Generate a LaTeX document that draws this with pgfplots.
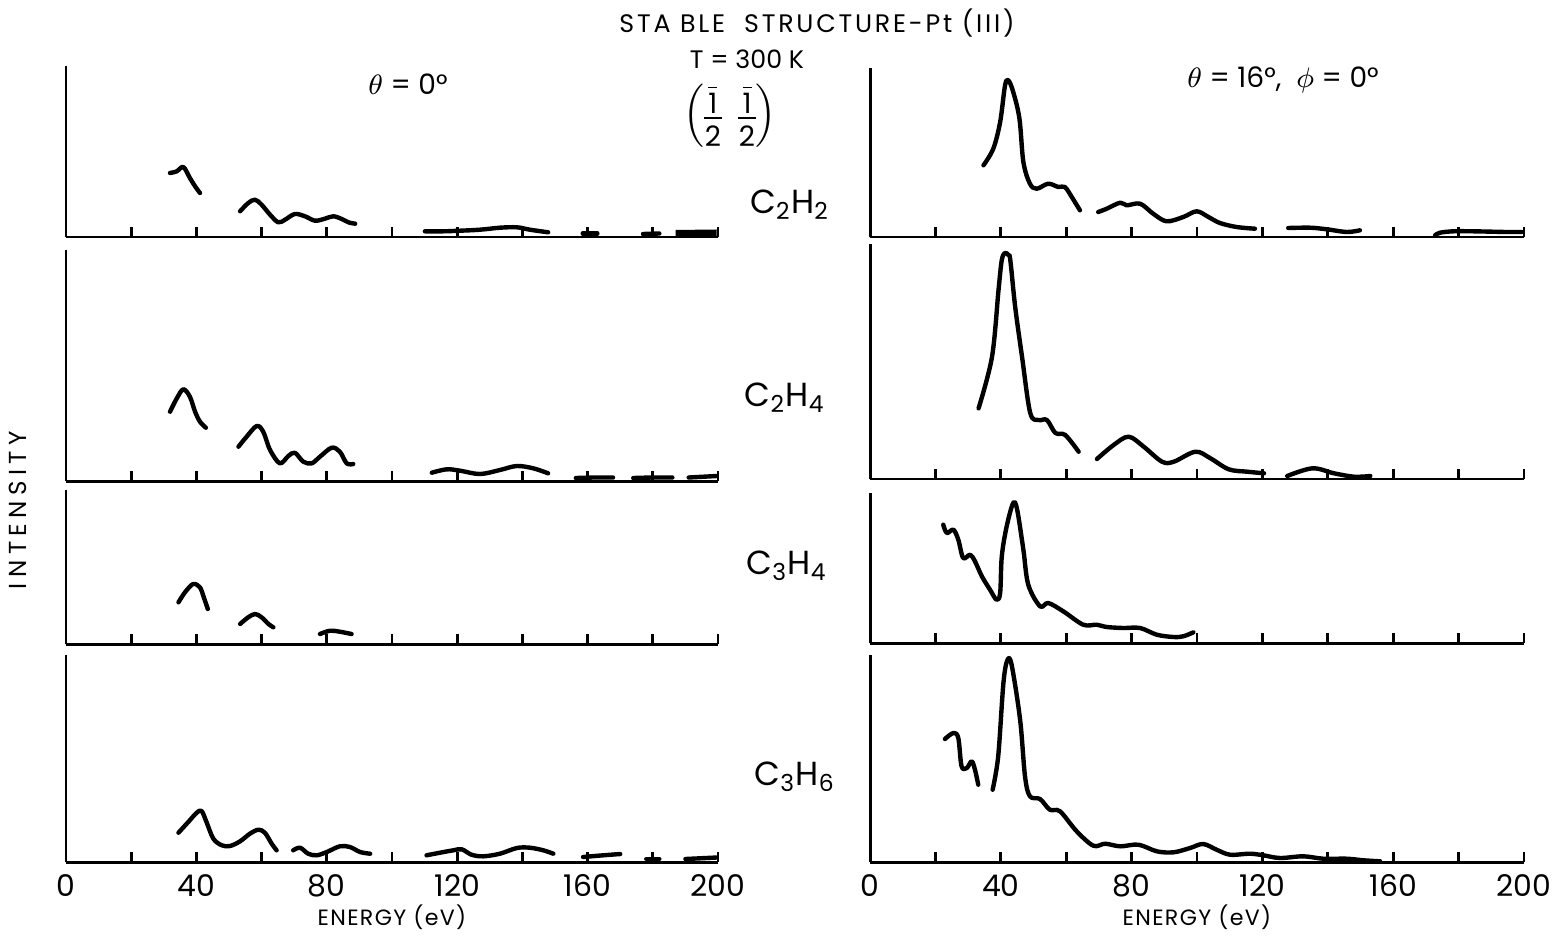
\documentclass[border=0pt]{standalone}
\usepackage{fontspec}
\setmainfont{Poppins}
\usepackage{pgfplots}
\pgfplotsset{compat=1.18}
\newcommand\negfrac{\vcenter{\offinterlineskip\halign{\hfil##\hfil\cr $\overline{\mbox{1}}$\cr\noalign{\kern1.2pt}\vrule width 0.62em height 0.6pt depth 0pt\cr\noalign{\kern1.8pt}2\cr}}}
\pgfplotsset{
  panel/.style={
    scale only axis, axis lines=left, axis line style={-, line width=0.85pt, black},
    xmin=0, xmax=200, ymin=0,
    xtick={0,40,...,200}, minor xtick={20,60,...,180}, ytick=\empty,
    tick align=inside, major tick length=0.1cm, minor tick length=0.1cm,
    every tick/.style={line width=0.75pt, black},
    xticklabels={}, clip=false, anchor=south west,
  },
  bottom/.style={
    xticklabels={0,40,80,120,160,200},
    /pgf/number format/assume math mode=true,
    ticklabel style={font=\fontsize{8.5}{9}\selectfont},
    xlabel={ENERGY (eV)},
    xlabel style={font=\fontsize{6.3}{7}\selectfont\addfontfeature{LetterSpace=6}, yshift=4.5pt},
  },
  curve/.style={black, line width=1.25pt, smooth, tension=0.55, line cap=round, line join=round, mark=none},
  thickbit/.style={black, line width=2pt, line cap=butt, mark=none},
}
\begin{document}
\begin{tikzpicture}
\path[use as bounding box] (0cm,0cm) rectangle (15.56cm,-9.35cm);
% ---------------- LEFT COLUMN ----------------
\begin{axis}[panel, at={(0.66cm,-2.37cm)}, width=6.52cm, height=1.71cm, ymax=171]
\addplot[curve] coordinates {(31.9,64)(34.0,65.7)(36.0,70)(38.0,59)(39.6,50.7)(41.1,44)};
\addplot[curve] coordinates {(53.4,25.7)(55.9,34)(58.0,37.3)(60.0,32.3)(62.6,22.3)(65.1,14.7)(67.2,17.3)(70.2,23)(73.3,20.7)(76.4,16.3)(79.4,18.3)(82.0,20.7)(84.6,18)(86.6,14.7)(88.7,13.3)};
\addplot[curve] coordinates {(110.1,5.7)(115.7,5.7)(120.9,6.3)(127.0,7.3)(133.1,9.3)(138.3,9.7)(142.3,7.3)(147.9,4.7)};
\addplot[curve] coordinates {(158.5,3.5)(163,3.5)};
\addplot[curve] coordinates {(177,3)(182,3.5)};
\addplot[thickbit] coordinates {(187,3.5)(199.6,4)};
\end{axis}
\begin{axis}[panel, at={(0.66cm,-4.81cm)}, width=6.52cm, height=2.31cm, ymax=231]
\addplot[curve] coordinates {(31.9,69.3)(34.0,82.7)(36.0,91.7)(38.0,84.3)(39.6,69.3)(41.1,59.3)(42.9,53.3)};
\addplot[curve] coordinates {(52.9,34.3)(55.4,44.3)(58.5,55)(60.5,49.3)(62.6,31)(65.6,17.7)(68.2,25)(70.2,28.3)(72.8,19.3)(75.4,17.7)(77.9,24.3)(81.5,33.3)(84.0,29.3)(86.1,17.7)(88.1,17)};
\addplot[curve] coordinates {(112.2,8.3)(116.8,11.7)(120.9,10.3)(127.0,7)(133.1,11)(138.3,15)(143.3,12.7)(147.9,7.7)};
\addplot[curve] coordinates {(156.4,3)(162,3.5)(167.8,3.5)};
\addplot[curve] coordinates {(174,3)(180,3.5)(186,3.5)};
\addplot[curve] coordinates {(191,3.5)(199.6,5)};
\end{axis}
\begin{axis}[panel, at={(0.66cm,-6.44cm)}, width=6.52cm, height=1.54cm, ymax=154]
\addplot[curve] coordinates {(34.5,41.7)(36.5,51.7)(39.0,60)(41.1,56.7)(42.1,48.3)(43.5,35)};
\addplot[curve] coordinates {(53.4,20)(55.9,26.7)(58.0,30)(60.0,26.7)(62.1,20)(63.6,16.7)};
\addplot[curve] coordinates {(77.9,10)(81.0,13.3)(84.0,12.3)(87.6,10)};
\end{axis}
\begin{axis}[panel, bottom, at={(0.66cm,-8.62cm)}, width=6.52cm, height=2.07cm, ymax=207]
\addplot[curve] coordinates {(34.5,29.3)(37.5,40)(40.1,49.3)(41.6,51)(43.1,40)(45.2,23.3)(47.8,16.7)(50.3,16)(53.4,20.7)(56.4,28.3)(59.0,32.3)(61.0,29.3)(63.1,18.3)(64.6,11.7)};
\addplot[curve] coordinates {(69.7,11.7)(71.8,14.3)(74.3,8.3)(76.9,6.7)(80.0,10)(84.0,15.7)(87.1,15)(90.2,10)(93.3,8.3)};
\addplot[curve] coordinates {(110.6,6.7)(114.7,9.3)(118.8,11.7)(121.4,12.7)(124.4,7.3)(128.0,5.7)(133.1,8.3)(138.3,14)(142.3,14.3)(146.4,11.7)(149.5,8.3)};
\addplot[curve] coordinates {(158.6,5)(164,6.5)(170,8)};
\addplot[curve] coordinates {(178,3)(182,3)};
\addplot[curve] coordinates {(190,3)(199.6,4.5)};
\end{axis}
% ---------------- RIGHT COLUMN ----------------
\begin{axis}[panel, at={(8.70cm,-2.37cm)}, width=6.54cm, height=1.69cm, ymax=169]
\addplot[curve] coordinates {(34.7,71.7)(37.7,88.3)(39.8,115)(41.3,151.7)(42.3,156.7)(43.8,145)(45.7,118.3)(46.9,75)(48.9,53.3)(51.0,48.3)(54.5,53.3)(57.6,50)(59.6,50)(61.7,40)(64.2,26.7)};
\addplot[curve] coordinates {(69.8,25)(72.4,28.3)(76.5,34.3)(78.5,31.7)(82.6,33.3)(86.6,23.3)(90.7,15.7)(95.8,20)(99.9,25.7)(103.5,20)(107.0,14)(112.1,10)(117.7,8.3)};
\addplot[curve] coordinates {(127.9,9)(134.6,9.3)(139.7,7.7)(145.8,5)(149.8,6.7)};
\addplot[curve] coordinates {(172.8,1.7)(174.3,4.3)(178.4,5.7)(184.5,5.7)(194.7,5)(199.3,5)};
\end{axis}
\begin{axis}[panel, at={(8.70cm,-4.79cm)}, width=6.54cm, height=2.35cm, ymax=235]
\addplot[curve] coordinates {(33.2,70.7)(37.3,122)(39.3,189)(40.3,219)(41.3,226)(42.3,224)(42.9,219)(44.4,172)(46.5,122)(49,66)(51.6,59)(54.1,59)(56.7,46)(59.7,44)(63.8,27.3)};
\addplot[curve] coordinates {(69.4,20)(74.5,34)(79.1,42.3)(83.7,32.3)(89.3,17.3)(92.9,17.3)(99.5,27.3)(104.1,20.7)(109.7,9.7)(115.4,7.3)(120.5,5.7)};
\addplot[curve] coordinates {(127.6,3)(135.3,10.7)(141.9,5.7)(148,2.3)(153,3)};
\end{axis}
\begin{axis}[panel, at={(8.70cm,-6.43cm)}, width=6.54cm, height=1.50cm, ymax=150]
\addplot[curve] coordinates {(22.4,118.3)(23.5,110)(25.5,113.3)(27.0,103.3)(28.5,85)(30.6,88.3)(32.1,81.7)(34.2,66.7)(36.7,53.3)(38.7,43.3)(39.8,50)(40.3,86.7)(41.8,116.7)(43.8,140)(45.0,133.3)(46.9,93.3)(48.4,58.3)(52.0,36.7)(54.5,40)(59.1,31.7)(65.2,18.3)(69.3,18.3)(72.4,16)(77.5,15)(82.6,15)(87.7,8.3)(92.8,6)(95.8,6.7)(98.9,10.7)};
\end{axis}
\begin{axis}[panel, bottom, at={(8.70cm,-8.62cm)}, width=6.54cm, height=2.07cm, ymax=207]
\addplot[curve] coordinates {(22.9,123)(25.5,129)(27.0,124)(28.0,95.7)(29.6,94)(31.1,100.7)(32.1,92.3)(33.1,77.3)};
\addplot[curve] coordinates {(37.5,72.3)(39.2,105.7)(40.8,179)(42.0,201.7)(43.3,197.3)(45.9,142.3)(47.4,85.7)(48.9,65.7)(52.0,63)(55.0,52.3)(58.1,50.7)(63.2,30.7)(68.3,16.3)(71.9,18.3)(76.5,15.7)(82.1,17.3)(87.7,10.7)(92.8,9.7)(97.9,14)(101.9,18)(106.0,12.3)(110.1,7.3)(116.2,8.3)(120.3,6.7)(125.4,4)(132.5,5.7)(138.6,3.3)(145.8,3.3)(150.9,1.7)(156.0,0.7)};
\end{axis}
% ---------------- TEXT ----------------
\node[font=\fontsize{7.2}{8}\selectfont\addfontfeature{LetterSpace=11}] at (8.17cm,-0.23cm) {STA BLE \ STRUCTURE-Pt (III)};
\node[inner sep=0pt, font=\fontsize{7.2}{8}\selectfont] at (7.47cm,-0.59cm) {T = 300 K};
\node[inner sep=0pt, font=\fontsize{8}{9}\selectfont] at (7.30cm,-1.16cm) {$\left(\negfrac\;\;\negfrac\right)$};
\node[font=\fontsize{8}{9}\selectfont] at (4.08cm,-0.84cm) {$\theta$ = 0°};
\node[font=\fontsize{8}{9}\selectfont] at (12.83cm,-0.80cm) {$\theta$ = 16°, \ $\phi$ = 0°};
\node[font=\fontsize{9.5}{10}\selectfont] at (7.90cm,-2.05cm) {C\textsubscript{2}H\textsubscript{2}};
\node[font=\fontsize{9.5}{10}\selectfont] at (7.85cm,-3.98cm) {C\textsubscript{2}H\textsubscript{4}};
\node[font=\fontsize{9.5}{10}\selectfont] at (7.87cm,-5.66cm) {C\textsubscript{3}H\textsubscript{4}};
\node[font=\fontsize{9.5}{10}\selectfont] at (7.95cm,-7.77cm) {C\textsubscript{3}H\textsubscript{6}};
\node[rotate=90, font=\fontsize{7}{8}\selectfont\addfontfeature{LetterSpace=22}] at (0.18cm,-5.10cm) {INTENSITY};
\end{tikzpicture}
\end{document}
